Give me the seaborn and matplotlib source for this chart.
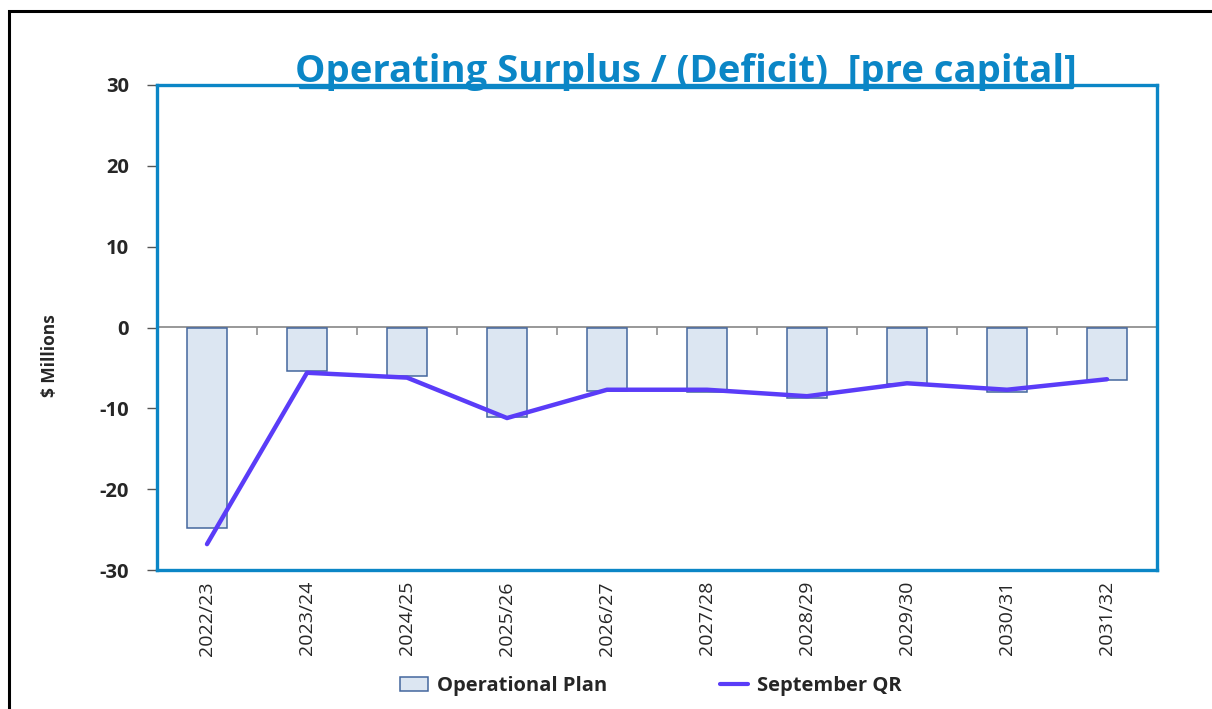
import numpy as np
import pandas as pd
import matplotlib
matplotlib.use("Agg")
import matplotlib.pyplot as plt
from matplotlib.patches import Rectangle, Patch
from matplotlib.lines import Line2D
import seaborn as sns

# Financial years and results ($ millions)
years = ["2022/23", "2023/24", "2024/25", "2025/26", "2026/27",
         "2027/28", "2028/29", "2029/30", "2030/31", "2031/32"]
operational_plan = [-24.8, -5.4, -6.0, -11.1, -7.9, -8.0, -8.7, -7.0, -8.0, -6.5]
september_qr = [-26.8, -5.6, -6.2, -11.2, -7.7, -7.7, -8.5, -6.9, -7.7, -6.4]
y_ticks = [-30, -20, -10, 0, 10, 20, 30]

sns.set_theme(style="white")
plt.rcParams["font.family"] = ["Open Sans", "DejaVu Sans"]

BAR_FILL = "#dce6f2"
BAR_EDGE = "#44679e"
LINE_COL = "#5a3cf8"
FRAME_BLUE = "#0b86c6"

df = pd.DataFrame({"year": years, "plan": operational_plan, "qr": september_qr})

fig = plt.figure(figsize=(12.12, 7.09), dpi=100)
ax = fig.add_axes([157 / 1212, 1 - 570 / 709, 1000 / 1212, 485 / 709])

sns.barplot(data=df, x="year", y="plan", ax=ax, color=BAR_FILL,
            edgecolor=BAR_EDGE, linewidth=1.1, width=0.4, saturation=1)
sns.lineplot(x=np.arange(len(years)), y=df["qr"], ax=ax, color=LINE_COL,
             linewidth=3.2, sort=False)

ax.set_xlim(-0.5, len(years) - 0.5)
ax.set_ylim(-30, 30)
ax.set_yticks(y_ticks)
ax.set_yticklabels([str(v) for v in y_ticks], fontsize=14.5, fontweight="bold")
ax.tick_params(axis="y", which="major", direction="out", length=7, width=1,
               color="#555555", pad=13, left=True)
ax.set_xticks(np.arange(len(years)))
ax.set_xticklabels(years, rotation=90, fontsize=14)
ax.tick_params(axis="x", length=0, pad=8)
ax.set_xlabel("")
ax.set_ylabel("$ Millions", fontsize=12.5, fontweight="bold")
ax.yaxis.set_label_coords(-0.098, 0.443)

for side in ["left", "right", "top", "bottom"]:
    ax.spines[side].set_visible(True)
    ax.spines[side].set_color(FRAME_BLUE)
    ax.spines[side].set_linewidth(2.4)

# Zero line with category separators hanging below it
zero_axis = ax.secondary_xaxis(0.5)
zero_axis.set_xticks(np.arange(len(years) + 1) - 0.5)
zero_axis.set_xticklabels([])
zero_axis.tick_params(direction="in", length=6, width=1.2, color="#909090",
                      bottom=False, top=True)
zero_axis.spines["bottom"].set_visible(False)
zero_axis.spines["top"].set_color("#909090")
zero_axis.spines["top"].set_linewidth(1.3)

# Title
fig.text(686 / 1212, 1 - 82 / 709, "Operating Surplus / (Deficit)  [pre capital]",
         ha="center", va="baseline", fontsize=27.5, fontweight="bold",
         color=FRAME_BLUE)
underline_y = 1 - 87 / 709
fig.add_artist(Line2D([300 / 1212, 1072 / 1212], [underline_y, underline_y],
                      color=FRAME_BLUE, linewidth=2.4, transform=fig.transFigure))

# Legend
handles = [Patch(facecolor=BAR_FILL, edgecolor=BAR_EDGE, linewidth=1.1),
           Line2D([0], [0], color=LINE_COL, linewidth=3)]
fig.legend(handles, ["Operational Plan", "September QR"], loc="center",
           bbox_to_anchor=(651 / 1212, 1 - 686 / 709), ncol=2, frameon=False,
           prop={"size": 14.5, "weight": "bold"}, columnspacing=5.6,
           handlelength=1.4, handletextpad=0.45)

# Outer chart frame
fig.add_artist(Rectangle((9 / 1212, -0.1), 1.2, 1 - 11 / 709 + 0.1,
                         fill=False, edgecolor="black", linewidth=2.2,
                         transform=fig.transFigure, clip_on=False))

fig.savefig("out.png", dpi=100)
